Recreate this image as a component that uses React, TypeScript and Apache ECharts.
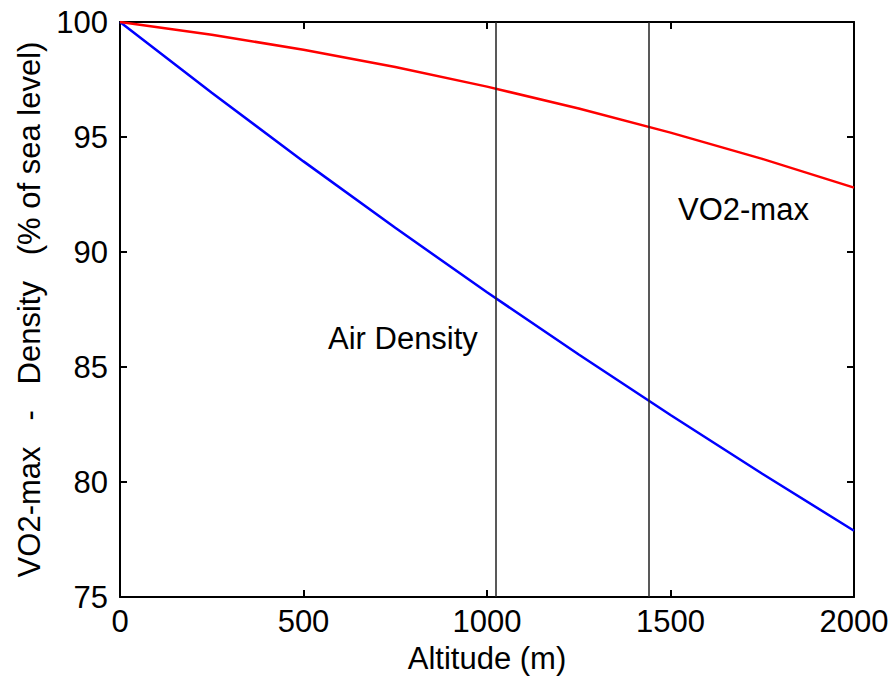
import React, { useEffect, useRef } from "react";
import * as echarts from "echarts";

// Altitude (m) and values (% of sea level)
const altitude = [0, 250, 500, 750, 1000, 1250, 1500, 1750, 2000];
const airDensity = [100, 96.92, 93.94, 91.05, 88.25, 85.54, 82.91, 80.36, 77.88];
const vo2Max = [100, 99.45, 98.79, 98.04, 97.19, 96.24, 95.19, 94.05, 92.8];
const markerAltitudes = [1025, 1441];
const xRange = [0, 2000];
const xStep = 500;
const yRange = [75, 100];
const yStep = 5;
const seriesNames = ["VO2-max", "Air Density"];
const xTitle = "Altitude (m)";
const yTitle = "VO2-max   -   Density   (% of sea level)";

const FONT = '"Liberation Sans", Arial, Helvetica, sans-serif';

export default function App() {
  const ref = useRef<HTMLDivElement>(null);
  useEffect(() => {
    const chart = echarts.init(ref.current!, null, { renderer: "svg" });
    const line = { show: true, onZero: false, lineStyle: { color: "#000", width: 2 } };
    const tick = { show: true, inside: true, length: 7, lineStyle: { color: "#000", width: 2 } };
    const label = { color: "#000", fontFamily: FONT, fontSize: 31 };
    const plain = (v: number) => String(v);
    chart.setOption({
      animation: false,
      grid: { left: 120, right: 42, top: 22, bottom: 78, containLabel: false },
      xAxis: [
        {
          type: "value",
          min: xRange[0],
          max: xRange[1],
          interval: xStep,
          position: "bottom",
          axisLine: line,
          axisTick: tick,
          splitLine: { show: false },
          axisLabel: { ...label, margin: 9, formatter: plain },
          name: xTitle,
          nameLocation: "middle",
          nameGap: 46,
          nameTextStyle: label,
        },
        {
          type: "value",
          min: xRange[0],
          max: xRange[1],
          interval: xStep,
          position: "top",
          axisLine: line,
          axisTick: tick,
          splitLine: { show: false },
          axisLabel: { show: false },
        },
      ],
      yAxis: [
        {
          type: "value",
          min: yRange[0],
          max: yRange[1],
          interval: yStep,
          position: "left",
          axisLine: line,
          axisTick: tick,
          splitLine: { show: false },
          axisLabel: { ...label, margin: 12, formatter: plain },
          name: yTitle,
          nameLocation: "middle",
          nameGap: 74,
          nameTextStyle: label,
        },
        {
          type: "value",
          min: yRange[0],
          max: yRange[1],
          interval: yStep,
          position: "right",
          axisLine: line,
          axisTick: tick,
          splitLine: { show: false },
          axisLabel: { show: false },
        },
      ],
      series: [
        {
          name: seriesNames[1],
          type: "line",
          data: altitude.map((a, i) => [a, airDensity[i]]),
          showSymbol: false,
          smooth: false,
          lineStyle: { color: "#0000ff", width: 2.5 },
          z: 3,
          markLine: {
            silent: true,
            symbol: "none",
            label: { show: false },
            lineStyle: { color: "#222", width: 1.5, type: "solid" },
            data: markerAltitudes.map((x) => ({ xAxis: x })),
          },
        },
        {
          name: seriesNames[0],
          type: "line",
          data: altitude.map((a, i) => [a, vo2Max[i]]),
          showSymbol: false,
          smooth: false,
          lineStyle: { color: "#ff0000", width: 2.5 },
          z: 3,
        },
      ],
      graphic: [
        {
          type: "text",
          x: 328,
          y: 338,
          style: {
            text: seriesNames[1],
            font: `31px ${FONT}`,
            fill: "#000",
            textVerticalAlign: "middle",
          },
        },
        {
          type: "text",
          x: 678,
          y: 209,
          style: {
            text: seriesNames[0],
            font: `31px ${FONT}`,
            fill: "#000",
            textVerticalAlign: "middle",
          },
        },
      ],
    });
    return () => chart.dispose();
  }, []);
  return (
    <div
      ref={ref}
      style={{ position: "fixed", left: 0, top: 0, width: 896, height: 679, background: "#fff" }}
    />
  );
}
